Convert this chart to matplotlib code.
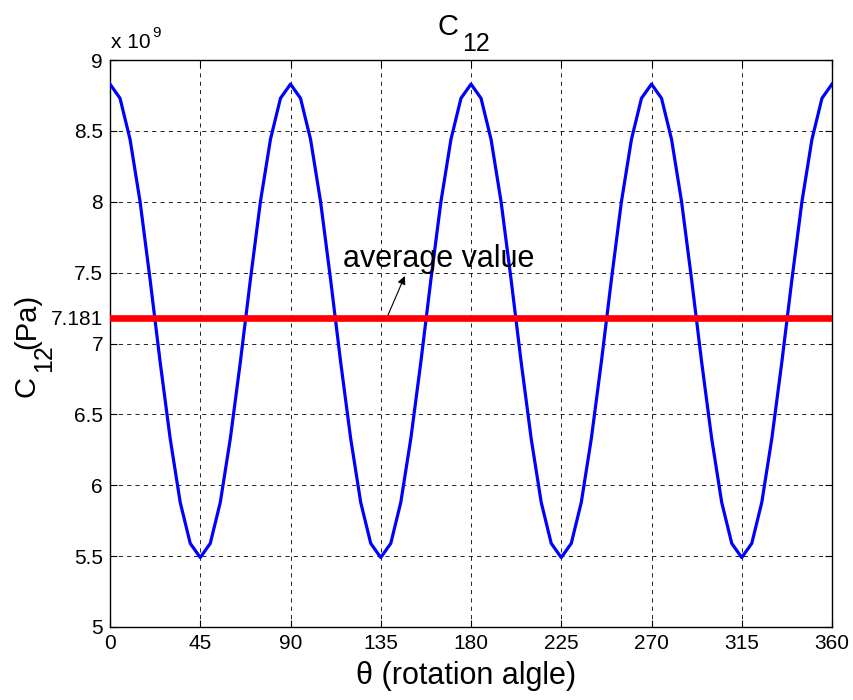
import matplotlib
matplotlib.use("Agg")
import matplotlib.pyplot as plt

plt.rcParams["font.family"] = ["Liberation Sans", "DejaVu Sans"]

# rotation angle (deg), sampled every 5 degrees
theta = list(range(0, 365, 5))

# C12 values in units of 1e9 Pa
c12 = [
    8.83, 8.73, 8.44, 8.00, 7.45, 6.87, 6.33, 5.88, 5.59,
    5.49, 5.59, 5.88, 6.33, 6.87, 7.45, 8.00, 8.44, 8.73,
    8.83, 8.73, 8.44, 8.00, 7.45, 6.87, 6.33, 5.88, 5.59,
    5.49, 5.59, 5.88, 6.33, 6.87, 7.45, 8.00, 8.44, 8.73,
    8.83, 8.73, 8.44, 8.00, 7.45, 6.87, 6.33, 5.88, 5.59,
    5.49, 5.59, 5.88, 6.33, 6.87, 7.45, 8.00, 8.44, 8.73,
    8.83, 8.73, 8.44, 8.00, 7.45, 6.87, 6.33, 5.88, 5.59,
    5.49, 5.59, 5.88, 6.33, 6.87, 7.45, 8.00, 8.44, 8.73,
    8.83,
]
avg_value = 7.181

xticks = [0, 45, 90, 135, 180, 225, 270, 315, 360]
yticks = [5, 5.5, 6, 6.5, 7, avg_value, 7.5, 8, 8.5, 9]
yticklabels = ["5", "5.5", "6", "6.5", "7", "7.181", "7.5", "8", "8.5", "9"]

W, H = 854, 700


def fx(px):
    return px / W


def fy(py):
    return 1 - py / H


fig = plt.figure(figsize=(W / 100, H / 100), dpi=100)
ax = fig.add_axes([fx(110), fy(627), fx(832) - fx(110), fy(60) - fy(627)])

ax.plot(theta, c12, color="#0000ff", lw=2.3, zorder=3)
ax.axhline(avg_value, color="#ff0000", lw=4.8, zorder=4)

ax.set_xlim(0, 360)
ax.set_ylim(5, 9)
ax.set_xticks(xticks)
ax.set_yticks(yticks)
ax.set_yticklabels(yticklabels)
ax.tick_params(direction="in", top=True, right=True, length=5, width=0.8,
               labelsize=15, pad=5)
ax.grid(True, color="black", ls=(0, (5, 5)), lw=0.6)
for s in ax.spines.values():
    s.set_linewidth(1.0)

# MATLAB-style title / labels with big, low subscripts
fig.text(fx(438), fy(35), "C", fontsize=21, va="baseline", ha="left")
fig.text(fx(462), fy(51), "12", fontsize=18, va="baseline", ha="left")

ykw = dict(rotation=90, rotation_mode="anchor", va="baseline", ha="left")
fig.text(fx(35), fy(397), "C", fontsize=21, **ykw)
fig.text(fx(51), fy(372), "12", fontsize=18, **ykw)
fig.text(fx(35), fy(349), "(Pa)", fontsize=21, **ykw)

fig.text(fx(466), fy(684), "θ (rotation algle)", fontsize=22,
         ha="center", va="baseline")

fig.text(fx(111), fy(48), "x 10", fontsize=15, ha="left", va="baseline")
fig.text(fx(152), fy(37), "9", fontsize=11, ha="left", va="baseline")

ax.text(116.2, 7.54, "average value", fontsize=22, ha="left", va="baseline")
ax.annotate("", xy=(147, 7.476), xytext=(138.6, 7.20),
            arrowprops=dict(arrowstyle="-|>", color="black", lw=0.8,
                            mutation_scale=12, shrinkA=0, shrinkB=0))

fig.savefig("out.png", dpi=100)
